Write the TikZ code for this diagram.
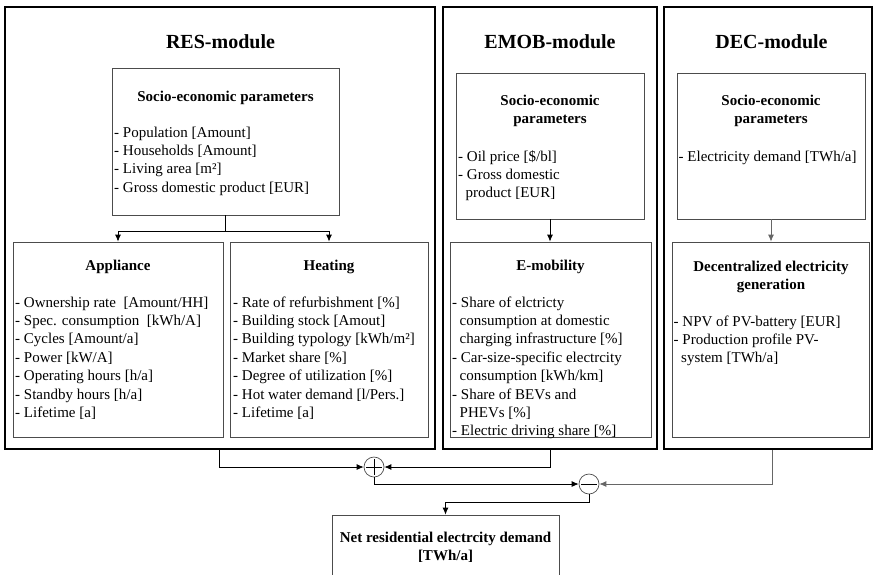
\documentclass[tikz,border=0pt]{standalone}
\usepackage{fontspec}
\setmainfont{Liberation Serif}
\usetikzlibrary{arrows.meta,fit}
\newcommand\leftlines[1]{\begin{tabular}[t]{@{}l@{}}#1\end{tabular}}
\newcommand\centerlines[1]{\begin{tabular}[t]{@{}c@{}}#1\end{tabular}}
\newcommand\ind{\hspace*{7.5pt}}
\begin{document}
\begin{tikzpicture}[x=1pt,y=-1pt,
  outerbox/.style={draw=black, line width=2.6pt, inner sep=0pt},
  innerbox/.style={draw=black!70, line width=0.8pt, inner sep=0pt},
  modtitle/.style={font=\fontsize{20}{24}\selectfont\bfseries, anchor=base, inner sep=0pt},
  btitle/.style={font=\fontsize{15}{18.4}\selectfont\bfseries, anchor=base, inner sep=0pt},
  items/.style={font=\fontsize{15}{18.4}\selectfont, anchor=base west, inner sep=0pt},
  sumnode/.style={circle, draw=black!70, line width=0.7pt, minimum size=20pt, inner sep=0pt},
  arr/.style={-{Latex[length=7pt,width=6pt]}, line width=0.8pt},
  grayarr/.style={arr, draw=black!60}]
\useasboundingbox (0,0) rectangle (874,574);
\clip (0,0) rectangle (874,574);
% module frames
\node[outerbox, fit={(5,7) (435,449)}] (res) {};
\node[outerbox, fit={(443,7) (657,449)}] (emob) {};
\node[outerbox, fit={(664,7) (872,449)}] (dec) {};
% inner boxes
\node[innerbox, fit={(112,68) (339,215)}] (rsoc) {};
\node[innerbox, fit={(13,242) (223,437)}] (appl) {};
\node[innerbox, fit={(230,242) (428,437)}] (heat) {};
\node[innerbox, fit={(456,73) (644,219)}] (esoc) {};
\node[innerbox, fit={(450,242) (651,437)}] (emobil) {};
\node[innerbox, fit={(677,73) (865,219)}] (dsoc) {};
\node[innerbox, fit={(672,242) (869,437)}] (dgen) {};
\node[innerbox, fit={(332,515) (559,600)}] (net) {};
% module titles
\node[modtitle] (t1) at (220.5,48) {RES-module};
\node[modtitle] (t2) at (550,48) {EMOB-module};
\node[modtitle] (t3) at (771.5,48) {DEC-module};
% RES
\node[btitle] (rsoct) at (225.5,101) {Socio-economic parameters};
\node[items] (rsoci) at (114,137) {\leftlines{- Population [Amount]\\- Households [Amount]\\- Living area [m²]\\- Gross domestic product [EUR]}};
\node[btitle] (applt) at (118,270) {Appliance};
\node[items] (appli) at (15,307) {\leftlines{- Ownership rate \ [Amount/HH]\\- Spec. consumption \ [kWh/A]\\- Cycles [Amount/a]\\- Power [kW/A]\\- Operating hours [h/a]\\- Standby hours [h/a]\\- Lifetime [a]}};
\node[btitle] (heatt) at (329,270) {Heating};
\node[items] (heati) at (233,307) {\leftlines{- Rate of refurbishment [\%]\\- Building stock [Amout]\\- Building typology [kWh/m²]\\- Market share [\%]\\- Degree of utilization [\%]\\- Hot water demand [l/Pers.]\\- Lifetime [a]}};
% EMOB
\node[btitle] (esoct) at (550,105) {\centerlines{Socio-economic\\parameters}};
\node[items] (esoci) at (458,161) {\leftlines{- Oil price [\$/bl]\\- Gross domestic\\\ind product [EUR]}};
\node[btitle] (emobt) at (550.5,270) {E-mobility};
\node[items] (emobi) at (452,307) {\leftlines{- Share of elctricty\\\ind consumption at domestic\\\ind charging infrastructure [\%]\\- Car-size-specific electrcity\\\ind consumption [kWh/km]\\- Share of BEVs and\\\ind PHEVs [\%]\\- Electric driving share [\%]}};
% DEC
\node[btitle] (dsoct) at (771,105) {\centerlines{Socio-economic\\parameters}};
\node[items] (dsoci) at (678.5,161) {\leftlines{- Electricity demand [TWh/a]}};
\node[btitle] (dgent) at (771,271) {\centerlines{Decentralized electricity\\generation}};
\node[items] (dgeni) at (673.5,326) {\leftlines{- NPV of PV-battery [EUR]\\- Production profile PV-\\\ind system [TWh/a]}};
% net
\node[btitle] (nett) at (445.5,542) {\centerlines{Net residential electrcity demand\\ {[TWh/a]}}};
% summation nodes
\node[sumnode] (plus) at (374,467) {};
\node[sumnode] (minus) at (589,484) {};
\draw[line width=0.7pt] ([yshift=8pt]plus.center) -- ([yshift=-8pt]plus.center)
  ([xshift=-8pt]plus.center) -- ([xshift=8pt]plus.center);
\draw[line width=0.7pt] ([xshift=-8pt]minus.center) -- ([xshift=8pt]minus.center);
% connectors inside modules
\draw[arr] (rsoc.south) -- ++(0,16) -| (appl.north);
\draw[arr] (rsoc.south) -- ++(0,16) -| (heat.north);
\draw[arr] (esoc.south) -- (esoc.south |- emobil.north);
\draw[grayarr] (dsoc.south) -- (dsoc.south |- dgen.north);
% connectors between modules
\draw[arr] ([xshift=-1pt]res.south) |- (plus.west);
\draw[arr] (emob.south) |- (plus.east);
\draw[arr] (plus.south) |- (minus.west);
\draw[grayarr] ([xshift=4pt]dec.south) |- (minus.east);
\draw[arr] (minus.south) -- ++(0,8) -| (net.north);
\end{tikzpicture}
\end{document}
